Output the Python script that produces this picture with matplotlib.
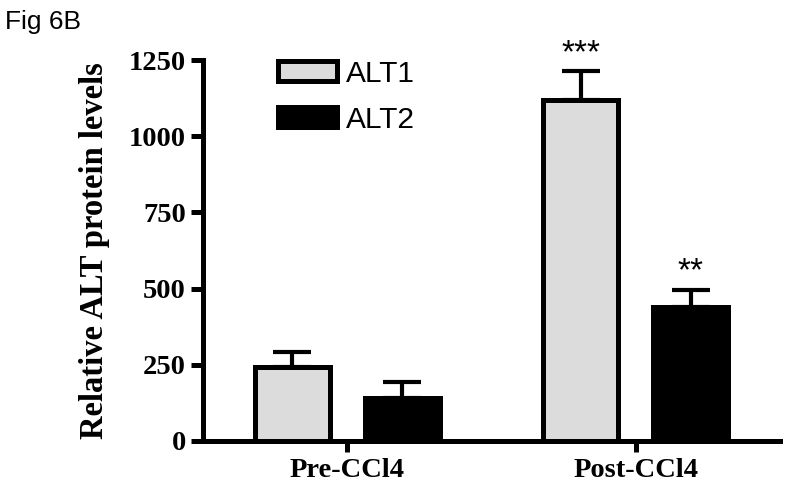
import numpy as np
import matplotlib.pyplot as plt

groups = ['Pre-CCl4', 'Post-CCl4']
series = ['ALT1', 'ALT2']
alt1 = [243, 1118]
alt1_err = [48, 95]
alt2 = [141, 440]
alt2_err = [52, 55]
stars_alt1 = ['', '***']
stars_alt2 = ['', '**']

fig = plt.figure(figsize=(7.89, 4.87), dpi=100)
ax = fig.add_axes([203/789, 46/487, 577/789, 381/487])

x = np.arange(len(groups))
w = 0.26
off = 0.19

handles = []
for vals, errs, stars, pos, color in [(alt1, alt1_err, stars_alt1, x - off, '#dcdcdc'),
                                      (alt2, alt2_err, stars_alt2, x + off, 'black')]:
    ax.errorbar(pos, vals, yerr=[np.zeros(len(vals)), errs], fmt='none', ecolor='black',
                elinewidth=3, capsize=13.5, capthick=3, zorder=1)
    b = ax.bar(pos, vals, width=w, color=color, edgecolor='black', linewidth=3.6, zorder=2)
    handles.append(b)
    for p, v, e, s in zip(pos, vals, errs, stars):
        if s:
            ax.text(p, v + e + 8, s, ha='center', va='bottom', fontsize=24,
                    family='Liberation Sans')

ax.set_xlim(-0.5, 1.5)
ax.set_ylim(0, 1250)
ax.set_yticks([0, 250, 500, 750, 1000, 1250])
ax.set_xticks(x)
ax.set_xticklabels(groups)
for s in ['top', 'right']:
    ax.spines[s].set_visible(False)
for s in ['left', 'bottom']:
    ax.spines[s].set_linewidth(3.6)
ax.tick_params(axis='both', width=3.6, length=9, direction='out')
ax.tick_params(axis='x', length=8, pad=4)
for lab in ax.get_yticklabels() + ax.get_xticklabels():
    lab.set_family('Liberation Serif')
    lab.set_fontweight('bold')
for lab in ax.get_yticklabels():
    lab.set_fontsize(20.5)
for lab in ax.get_xticklabels():
    lab.set_fontsize(20.5)
ax.set_ylabel('Relative ALT protein levels', family='Liberation Serif',
              fontweight='bold', fontsize=23.5, labelpad=13)

leg = ax.legend(handles, series, loc='upper left', bbox_to_anchor=(0.084, 1.071), frameon=False,
                prop={'family': 'Liberation Sans', 'size': 21.5}, handlelength=1.95,
                handleheight=0.65, handletextpad=0.3, labelspacing=0.6)

fig.text(0.006, 0.98, 'Fig 6B', family='Liberation Sans', fontsize=19, va='top')

fig.savefig('out.png', dpi=100)
